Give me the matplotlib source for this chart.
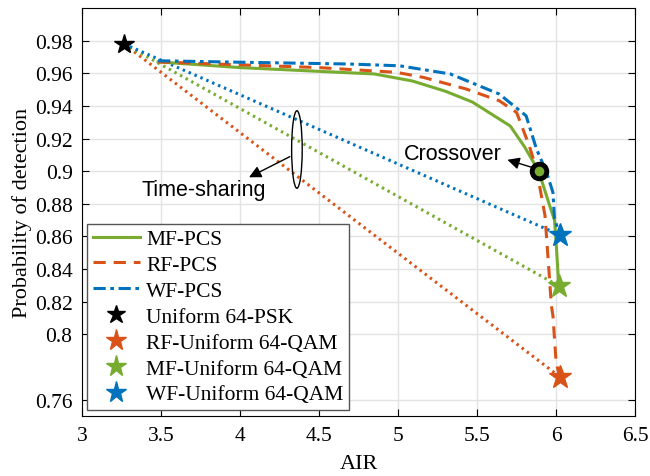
import matplotlib
matplotlib.use("Agg")
import matplotlib.pyplot as plt
from matplotlib.patches import Ellipse

# --- data ---
mf_air = [3.48, 4.0, 4.5, 4.85, 5.09, 5.3, 5.47, 5.71, 5.8, 5.89, 5.96, 5.99, 6.0, 6.017]
mf_pd = [0.967, 0.9635, 0.9612, 0.9596, 0.9553, 0.949, 0.9424, 0.9277, 0.915, 0.9, 0.8787, 0.87, 0.857, 0.8297]

rf_air = [3.48, 4.0, 4.5, 4.99, 5.16, 5.43, 5.64, 5.75, 5.83, 5.876, 5.93, 5.96, 5.97, 5.98, 6.0, 6.023]
rf_pd = [0.967, 0.9652, 0.9635, 0.9606, 0.9575, 0.9504, 0.9432, 0.936, 0.9156, 0.9013, 0.8727, 0.832, 0.8176, 0.8115, 0.783, 0.774]

wf_air = [3.48, 4.0, 4.69, 5.01, 5.33, 5.64, 5.81, 5.876, 5.94, 5.98, 5.99, 6.023]
wf_pd = [0.9677, 0.9668, 0.9657, 0.9646, 0.9596, 0.9473, 0.934, 0.9136, 0.8993, 0.887, 0.871, 0.861]

psk_pt = (3.264, 0.978)
rf_uni = (6.023, 0.774)
mf_uni = (6.017, 0.8297)
wf_uni = (6.023, 0.861)
crossover = (5.89, 0.9)

x_ticks = [3, 3.5, 4, 4.5, 5, 5.5, 6, 6.5]
x_labels = ["3", "3.5", "4", "4.5", "5", "5.5", "6", "6.5"]
y_ticks = [0.76, 0.8, 0.82, 0.84, 0.86, 0.88, 0.9, 0.92, 0.94, 0.96, 0.98]
y_labels = ["0.76", "0.8", "0.82", "0.84", "0.86", "0.88", "0.9", "0.92", "0.94", "0.96", "0.98"]

GREEN = "#77AC30"
RED = "#D95319"
BLUE = "#0072BD"

plt.rcParams["font.family"] = ["Liberation Serif", "DejaVu Serif"]

fig = plt.figure(figsize=(6.5, 4.77), dpi=100)
ax = fig.add_axes([0.1266, 0.126, 0.8504, 0.855])

# time-sharing lines between the uniform points
for pt, col in [(rf_uni, RED), (mf_uni, GREEN), (wf_uni, BLUE)]:
    ax.plot([psk_pt[0], pt[0]], [psk_pt[1], pt[1]], color=col, lw=2.2,
            linestyle=(0, (0.8, 1.3)), zorder=2)

# PCS curves
l_mf, = ax.plot(mf_air, mf_pd, color=GREEN, lw=2.2, label="MF-PCS", zorder=3)
l_rf, = ax.plot(rf_air, rf_pd, color=RED, lw=2.2, linestyle=(0, (4, 2.6)),
                label="RF-PCS", zorder=3)
l_wf, = ax.plot(wf_air, wf_pd, color=BLUE, lw=2.2, linestyle=(0, (4, 1.5, 1.2, 1.5)),
                label="WF-PCS", zorder=4)

# uniform constellation points
s_psk, = ax.plot(*psk_pt, marker="*", ms=15, color="black", ls="none",
                 label="Uniform 64-PSK", zorder=5)
s_rf, = ax.plot(*rf_uni, marker="*", ms=17, color=RED, ls="none",
                label="RF-Uniform 64-QAM", zorder=5)
s_mf, = ax.plot(*mf_uni, marker="*", ms=17, color=GREEN, ls="none",
                label="MF-Uniform 64-QAM", zorder=5)
s_wf, = ax.plot(*wf_uni, marker="*", ms=17, color=BLUE, ls="none",
                label="WF-Uniform 64-QAM", zorder=5)

# crossover marker + annotation
ax.plot(*crossover, marker="o", ms=10.5, mfc=GREEN, mec="black", mew=3.5, zorder=6)
ax.annotate("", xy=(5.675, 0.9075), xytext=(crossover[0] - 0.025, crossover[1] + 0.0018),
            arrowprops=dict(arrowstyle="-|>", color="black", lw=1, mutation_scale=18),
            zorder=6)
ax.text(5.343, 0.9108, "Crossover", family=["Liberation Sans", "DejaVu Sans"],
        fontsize=15.5, ha="center", va="center", zorder=6)

# time-sharing ellipse + annotation
ax.add_patch(Ellipse((4.359, 0.9133), 0.067, 0.0475, fill=False, ec="black", lw=1, zorder=6))
ax.annotate("", xy=(4.04, 0.8955), xytext=(4.33, 0.9097),
            arrowprops=dict(arrowstyle="-|>", color="black", lw=1, mutation_scale=18),
            zorder=6)
ax.text(3.77, 0.8885, "Time-sharing", family=["Liberation Sans", "DejaVu Sans"],
        fontsize=15.5, ha="center", va="center", zorder=6)

ax.set_xlim(3, 6.5)
ax.set_ylim(0.75, 1.0)
ax.set_xticks(x_ticks)
ax.set_xticklabels(x_labels)
ax.set_yticks(y_ticks)
ax.set_yticklabels(y_labels)
ax.tick_params(direction="in", top=True, right=True, length=5, width=0.8,
               labelsize=15.5, pad=7)
ax.grid(True, color="#e3e3e3", lw=1)
ax.set_axisbelow(True)
for sp in ax.spines.values():
    sp.set_linewidth(0.8)

ax.set_xlabel("AIR", fontsize=16, labelpad=7)
ax.set_ylabel("Probability of detection", fontsize=16, labelpad=2)

leg = ax.legend(handles=[l_mf, l_rf, l_wf, s_psk, s_rf, s_mf, s_wf],
                loc="lower left", bbox_to_anchor=(0.009, 0.015), borderaxespad=0,
                fontsize=15.5, fancybox=False, framealpha=1, edgecolor="#555555",
                handlelength=2.2, handletextpad=0.3, labelspacing=0.27,
                borderpad=0.25, markerscale=0.9)
leg.get_frame().set_linewidth(1)
leg.set_zorder(10)

fig.savefig("out.png", dpi=100)
